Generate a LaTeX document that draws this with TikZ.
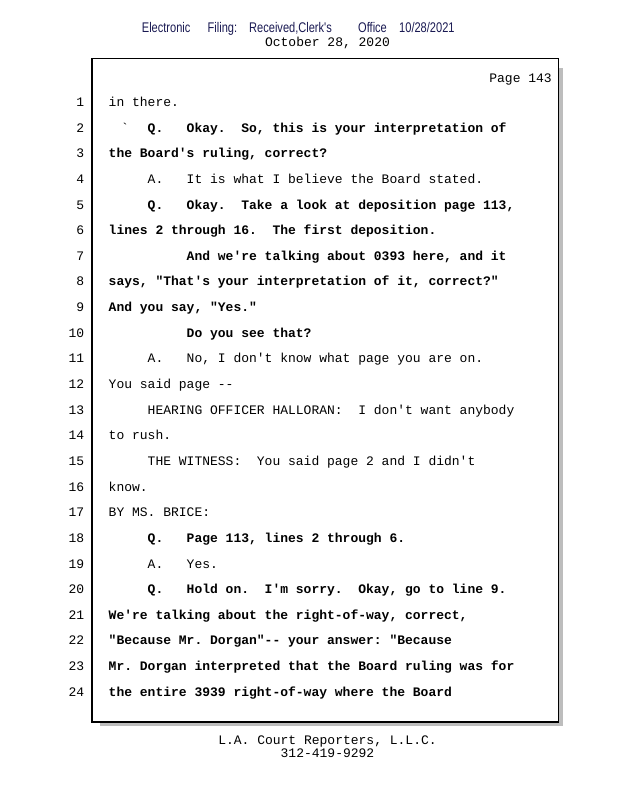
\documentclass[tikz,border=0pt]{standalone}
\usepackage{fontspec}
\setmonofont{Liberation Mono}
\newfontfamily\hdrfont[FakeStretch=0.79]{Liberation Sans}
\definecolor{hdrblue}{rgb}{0.1,0.1,0.32}
\definecolor{shadowgray}{rgb}{0.74,0.74,0.74}
\tikzset{
  num/.style={anchor=base east,inner sep=0pt,font=\ttfamily\fontsize{13}{15}\selectfont},
  txt/.style={anchor=base west,inner sep=0pt,font=\ttfamily\fontsize{13}{15}\selectfont},
  btxt/.style={txt,font=\ttfamily\bfseries\fontsize{13}{15}\selectfont},
  hdr/.style={anchor=base west,inner sep=0pt,text=hdrblue,font=\hdrfont\fontsize{14}{16}\selectfont},
  ctr/.style={anchor=base,inner sep=0pt,font=\ttfamily\fontsize{13}{15}\selectfont}
}
\newcommand\trline[4]{%
  \node[num] (n#1) at (84.5,{106.5+(#1-1)*25.64}) {#1};
  \node[#3] (t#1) at ({108.5+#2*7.8},{106.5+(#1-1)*25.64}) {#4};}
\begin{document}
\begin{tikzpicture}[x=1pt,y=-1pt]
\useasboundingbox (0,0) rectangle (618,800);
% header
\node[hdr] (h1) at (141.7,33) {Electronic};
\node[hdr] (h2) at (207.5,33) {Filing:};
\node[hdr] (h3) at (249,33) {Received,Clerk's};
\node[hdr] (h4) at (358,33) {Office};
\node[hdr] (h5) at (399,33) {10/28/2021};
\node[ctr] (date) at (327.5,47) {October 28, 2020};
% page box with shadow
\fill[shadowgray] (100,68) rectangle (562.5,725.5);
\draw[line width=1.2pt,fill=white] (92,58.5) rectangle (558.5,722);
\node[num] (page) at (552,82) {Page 143};
% transcript lines
\trline{1}{0}{txt}{in there.}
\node[txt] (t2a) at ({108.5+1.6*7.8},{106.5+25.64}) {`};
\trline{2}{5}{btxt}{Q.~~~Okay.~ So, this is your interpretation of}
\trline{3}{0}{btxt}{the Board's ruling, correct?}
\trline{4}{5}{txt}{A.~~~It is what I believe the Board stated.}
\trline{5}{5}{btxt}{Q.~~~Okay.~ Take a look at deposition page 113,}
\trline{6}{0}{btxt}{lines 2 through 16.~ The first deposition.}
\trline{7}{10}{btxt}{And we're talking about 0393 here, and it}
\trline{8}{0}{btxt}{says, "That's your interpretation of it, correct?"}
\trline{9}{0}{btxt}{And you say, "Yes."}
\trline{10}{10}{btxt}{Do you see that?}
\trline{11}{5}{txt}{A.~~~No, I don't know what page you are on.}
\trline{12}{0}{txt}{You said page -{}-}
\trline{13}{5}{txt}{HEARING OFFICER HALLORAN:~ I don't want anybody}
\trline{14}{0}{txt}{to rush.}
\trline{15}{5}{txt}{THE WITNESS:~ You said page 2 and I didn't}
\trline{16}{0}{txt}{know.}
\trline{17}{0}{txt}{BY MS. BRICE:}
\trline{18}{5}{btxt}{Q.~~~Page 113, lines 2 through 6.}
\trline{19}{5}{txt}{A.~~~Yes.}
\trline{20}{5}{btxt}{Q.~~~Hold on.~ I'm sorry.~ Okay, go to line 9.}
\trline{21}{0}{btxt}{We're talking about the right-of-way, correct,}
\trline{22}{0}{btxt}{"Because Mr. Dorgan"-{}- your answer: "Because}
\trline{23}{0}{btxt}{Mr. Dorgan interpreted that the Board ruling was for}
\trline{24}{0}{btxt}{the entire 3939 right-of-way where the Board}
% footer
\node[ctr] (f1) at (327.5,744) {L.A. Court Reporters, L.L.C.};
\node[ctr] (f2) at (327.5,757.5) {312-419-9292};
\end{tikzpicture}
\end{document}
